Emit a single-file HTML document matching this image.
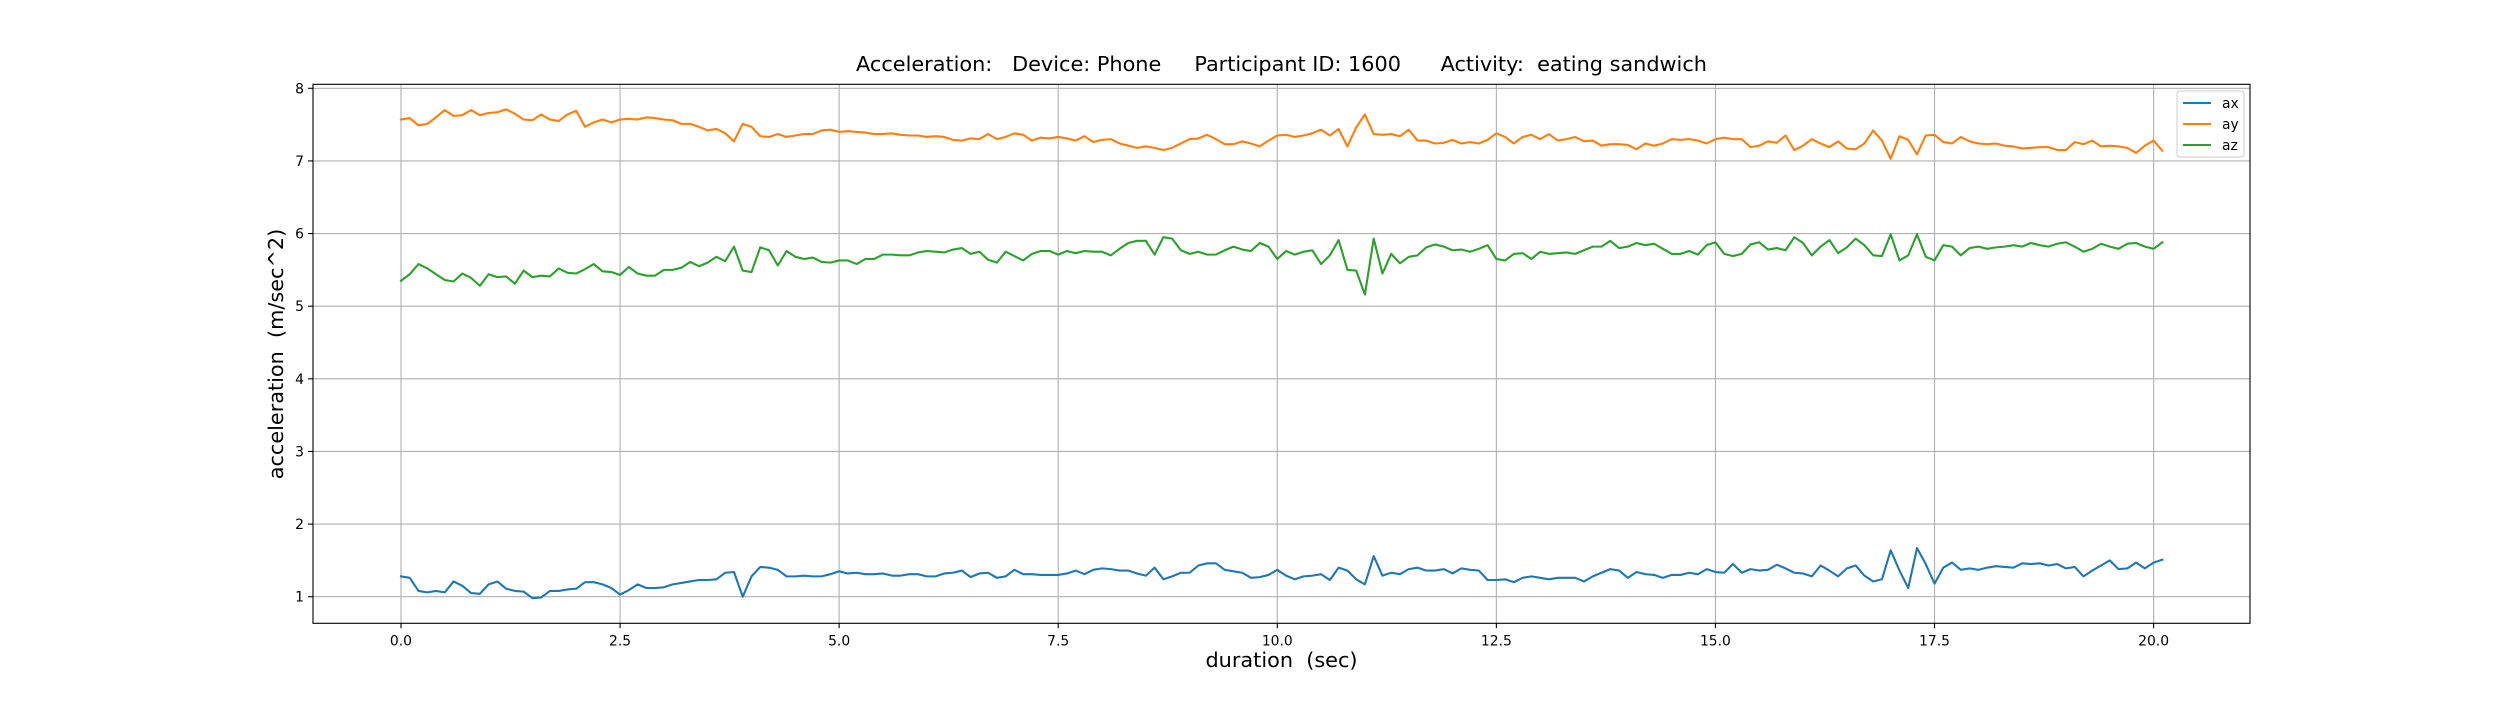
<!DOCTYPE html>
<html><head><meta charset="utf-8"><title>Acceleration chart</title>
<style>
html,body{margin:0;padding:0;background:#fff;}
svg text{font-family:"DejaVu Sans","Liberation Sans",sans-serif;white-space:pre;}
</style></head>
<body>
<svg id="chart" width="2500" height="700" viewBox="0 0 2500 700" xmlns="http://www.w3.org/2000/svg">
<rect x="0" y="0" width="2500" height="700" fill="#fff"/>
<g id="grid"></g>
<g id="series"></g>
<rect x="313" y="84.3" width="1937" height="539" fill="none" stroke="#000" stroke-width="1.1"/>
<g id="ticks"></g>
<text x="1281.5" y="71" text-anchor="middle" font-size="20.8" fill="#000">Acceleration:   Device: Phone     Participant ID: 1600      Activity:  eating sandwich</text>
<text x="1281.5" y="667" text-anchor="middle" font-size="20.8" fill="#000">duration  (sec)</text>
<text transform="translate(276,354) rotate(-90)" text-anchor="middle" dominant-baseline="central" font-size="20.8" fill="#000">acceleration  (m/sec^2)</text>
<g>
<rect x="2177" y="91" width="67" height="66" rx="3" fill="#fff" fill-opacity="0.8" stroke="#ccc" stroke-width="1"/>
<g><line x1="2183" y1="103" x2="2211" y2="103" stroke="#1f77b4" stroke-width="2.1"/><text x="2222" y="108" font-size="13.9" fill="#000">ax</text></g>
<g><line x1="2183" y1="124" x2="2211" y2="124" stroke="#ff7f0e" stroke-width="2.1"/><text x="2222" y="129" font-size="13.9" fill="#000">ay</text></g>
<g><line x1="2183" y1="145" x2="2211" y2="145" stroke="#2ca02c" stroke-width="2.1"/><text x="2222" y="150" font-size="13.9" fill="#000">az</text></g>
</g>
</svg>
<script>
const times = [0.0,0.1,0.2,0.3,0.4,0.5,0.6,0.7,0.8,0.9,1.0,1.1,1.2,1.3,1.4,1.5,1.6,1.7,1.8,1.9,2.0,2.1,2.2,2.3,2.4,2.5,2.6,2.7,2.8,2.9,3.0,3.1,3.2,3.3,3.4,3.5,3.6,3.7,3.8,3.9,4.0,4.1,4.2,4.3,4.4,4.5,4.6,4.7,4.8,4.9,5.0,5.1,5.2,5.3,5.4,5.5,5.6,5.7,5.8,5.9,6.0,6.1,6.2,6.3,6.4,6.5,6.6,6.7,6.8,6.9,7.0,7.1,7.2,7.3,7.4,7.5,7.6,7.7,7.8,7.9,8.0,8.1,8.2,8.3,8.4,8.5,8.6,8.7,8.8,8.9,9.0,9.1,9.2,9.3,9.4,9.5,9.6,9.7,9.8,9.9,10.0,10.1,10.2,10.3,10.4,10.5,10.6,10.7,10.8,10.9,11.0,11.1,11.2,11.3,11.4,11.5,11.6,11.7,11.8,11.9,12.0,12.1,12.2,12.3,12.4,12.5,12.6,12.7,12.8,12.9,13.0,13.1,13.2,13.3,13.4,13.5,13.6,13.7,13.8,13.9,14.0,14.1,14.2,14.3,14.4,14.5,14.6,14.7,14.8,14.9,15.0,15.1,15.2,15.3,15.4,15.5,15.6,15.7,15.8,15.9,16.0,16.1,16.2,16.3,16.4,16.5,16.6,16.7,16.8,16.9,17.0,17.1,17.2,17.3,17.4,17.5,17.6,17.7,17.8,17.9,18.0,18.1,18.2,18.3,18.4,18.5,18.6,18.7,18.8,18.9,19.0,19.1,19.2,19.3,19.4,19.5,19.6,19.7,19.8,19.9,20.0,20.1];
const ax = [1.28,1.26,1.08,1.06,1.08,1.06,1.21,1.15,1.05,1.04,
1.17,1.21,1.11,1.08,1.07,0.98,0.99,1.08,1.08,1.10,
1.11,1.20,1.20,1.17,1.12,1.03,1.09,1.17,1.12,1.12,
1.13,1.17,1.19,1.21,1.23,1.23,1.24,1.33,1.34,1.00,
1.28,1.41,1.40,1.37,1.28,1.28,1.29,1.28,1.28,1.31,
1.35,1.32,1.33,1.31,1.31,1.32,1.29,1.29,1.31,1.31,
1.28,1.28,1.32,1.33,1.36,1.27,1.32,1.33,1.26,1.28,
1.37,1.31,1.31,1.30,1.30,1.30,1.32,1.36,1.31,1.37,
1.39,1.38,1.36,1.36,1.32,1.29,1.40,1.24,1.28,1.33,
1.33,1.43,1.46,1.46,1.37,1.35,1.33,1.26,1.27,1.30,
1.37,1.29,1.24,1.28,1.29,1.31,1.23,1.40,1.36,1.24,
1.17,1.56,1.29,1.33,1.31,1.38,1.40,1.36,1.36,1.38,
1.32,1.39,1.37,1.36,1.23,1.23,1.24,1.20,1.26,1.28,
1.26,1.24,1.26,1.26,1.26,1.21,1.28,1.33,1.38,1.36,
1.26,1.34,1.31,1.30,1.26,1.30,1.30,1.33,1.31,1.38,
1.34,1.33,1.45,1.33,1.38,1.36,1.37,1.44,1.39,1.33,
1.32,1.28,1.43,1.36,1.28,1.39,1.43,1.29,1.21,1.24,
1.64,1.36,1.12,1.67,1.45,1.18,1.40,1.47,1.37,1.39,
1.37,1.40,1.42,1.41,1.40,1.46,1.45,1.46,1.43,1.45,
1.39,1.41,1.28,1.36,1.43,1.50,1.38,1.39,1.47,1.39,
1.47,1.51];
const ay = [7.57,7.59,7.49,7.51,7.60,7.70,7.62,7.63,7.70,7.63,
7.66,7.67,7.71,7.65,7.57,7.56,7.64,7.57,7.55,7.64,
7.69,7.47,7.53,7.57,7.53,7.57,7.58,7.57,7.60,7.59,
7.57,7.56,7.51,7.51,7.47,7.42,7.44,7.38,7.27,7.51,
7.47,7.34,7.33,7.37,7.33,7.35,7.37,7.37,7.42,7.43,
7.40,7.41,7.40,7.39,7.37,7.37,7.38,7.36,7.35,7.35,
7.33,7.34,7.33,7.29,7.28,7.31,7.30,7.37,7.30,7.33,
7.38,7.36,7.28,7.32,7.31,7.33,7.31,7.28,7.34,7.26,
7.29,7.30,7.24,7.21,7.18,7.20,7.18,7.15,7.18,7.24,
7.30,7.31,7.36,7.30,7.23,7.23,7.27,7.24,7.20,7.28,
7.35,7.36,7.33,7.35,7.38,7.43,7.35,7.44,7.20,7.46,
7.64,7.37,7.36,7.37,7.34,7.43,7.28,7.28,7.24,7.25,
7.29,7.24,7.26,7.24,7.29,7.38,7.33,7.24,7.33,7.36,
7.30,7.37,7.28,7.30,7.33,7.27,7.28,7.21,7.23,7.23,
7.22,7.16,7.24,7.21,7.24,7.30,7.29,7.30,7.28,7.24,
7.30,7.32,7.30,7.30,7.19,7.21,7.27,7.25,7.35,7.15,
7.21,7.30,7.24,7.19,7.27,7.17,7.16,7.24,7.42,7.28,
7.03,7.34,7.29,7.09,7.35,7.36,7.26,7.24,7.33,7.27,
7.24,7.23,7.24,7.21,7.20,7.17,7.18,7.19,7.19,7.15,
7.15,7.26,7.23,7.28,7.20,7.21,7.20,7.18,7.11,7.21,
7.28,7.14];
const az = [5.35,5.44,5.58,5.52,5.44,5.36,5.34,5.45,5.39,5.28,
5.44,5.40,5.41,5.31,5.49,5.40,5.42,5.41,5.52,5.46,
5.45,5.51,5.58,5.48,5.47,5.43,5.54,5.45,5.42,5.42,
5.50,5.50,5.53,5.61,5.55,5.60,5.68,5.62,5.82,5.49,
5.47,5.81,5.77,5.56,5.76,5.68,5.65,5.67,5.61,5.60,
5.63,5.63,5.58,5.65,5.65,5.71,5.71,5.70,5.70,5.74,
5.76,5.75,5.74,5.78,5.80,5.72,5.75,5.64,5.60,5.75,
5.69,5.63,5.72,5.76,5.76,5.71,5.76,5.73,5.76,5.75,
5.75,5.70,5.79,5.87,5.90,5.90,5.71,5.95,5.93,5.77,
5.72,5.75,5.71,5.71,5.77,5.82,5.78,5.76,5.87,5.82,
5.65,5.76,5.71,5.75,5.77,5.58,5.70,5.91,5.50,5.49,
5.16,5.93,5.45,5.72,5.59,5.68,5.70,5.81,5.85,5.82,
5.77,5.78,5.75,5.79,5.84,5.65,5.63,5.72,5.73,5.65,
5.75,5.72,5.73,5.74,5.72,5.77,5.82,5.82,5.90,5.80,
5.82,5.87,5.84,5.86,5.79,5.72,5.72,5.76,5.71,5.84,
5.88,5.72,5.69,5.72,5.85,5.88,5.78,5.80,5.77,5.95,
5.87,5.70,5.82,5.91,5.73,5.81,5.93,5.84,5.70,5.69,
5.99,5.63,5.70,5.99,5.68,5.63,5.84,5.82,5.70,5.80,
5.82,5.79,5.81,5.82,5.84,5.82,5.87,5.84,5.82,5.86,
5.88,5.82,5.75,5.79,5.86,5.82,5.79,5.86,5.87,5.82,
5.79,5.88];
const xTicks = [0.0,2.5,5.0,7.5,10.0,12.5,15.0,17.5,20.0];
const xTickLabels = ["0.0","2.5","5.0","7.5","10.0","12.5","15.0","17.5","20.0"];
const yTicks = [1,2,3,4,5,6,7,8];
const yTickLabels = ["1","2","3","4","5","6","7","8"];

const NS = "http://www.w3.org/2000/svg";
const L = 313, R = 2250, T = 84.3, B = 623.3;
const xMin = -1.004, xMax = 21.1, yMin = 0.634, yMax = 8.055;
function xs(v){ return L + (v - xMin) / (xMax - xMin) * (R - L); }
function ys(v){ return B - (v - yMin) / (yMax - yMin) * (B - T); }
function mk(tag, attrs){ const e = document.createElementNS(NS, tag); for (const k in attrs) e.setAttribute(k, attrs[k]); return e; }

const grid = document.getElementById('grid');
const ticks = document.getElementById('ticks');
xTicks.forEach((v, i) => {
  const gl = mk('line', {x1: xs(v), x2: xs(v), y1: T, y2: B, stroke: '#b0b0b0', 'stroke-width': 1.1});
  
  
  grid.appendChild(gl);
  const tk = mk('line', {x1: xs(v), x2: xs(v), y1: B, y2: B + 4.9, stroke: '#000', 'stroke-width': 1.1});
  
  
  ticks.appendChild(tk);
  const tl = mk('text', {x: xs(v), y: B + 22, 'text-anchor': 'middle', 'font-size': 13.9, fill: '#000'});
  tl.textContent = xTickLabels[i];
  
  
  ticks.appendChild(tl);
});
yTicks.forEach((v, i) => {
  const gl = mk('line', {x1: L, x2: R, y1: ys(v), y2: ys(v), stroke: '#b0b0b0', 'stroke-width': 1.1});
  
  
  grid.appendChild(gl);
  const tk = mk('line', {x1: L - 4.9, x2: L, y1: ys(v), y2: ys(v), stroke: '#000', 'stroke-width': 1.1});
  
  
  ticks.appendChild(tk);
  const tl = mk('text', {x: L - 9, y: ys(v) + 5, 'text-anchor': 'end', 'font-size': 13.9, fill: '#000'});
  tl.textContent = yTickLabels[i];
  
  
  ticks.appendChild(tl);
});

const seriesG = document.getElementById('series');
function drawLine(vals, color, name){
  const pts = vals.map((v, i) => xs(times[i]).toFixed(2) + ',' + ys(v).toFixed(2)).join(' ');
  const pl = mk('polyline', {points: pts, fill: 'none', stroke: color, 'stroke-width': 2.1, 'stroke-linejoin': 'round', 'stroke-linecap': 'square'});
  
  
  seriesG.appendChild(pl);
}
drawLine(ax, '#1f77b4', 'line-ax');
drawLine(ay, '#ff7f0e', 'line-ay');
drawLine(az, '#2ca02c', 'line-az');
</script>
</body></html>
